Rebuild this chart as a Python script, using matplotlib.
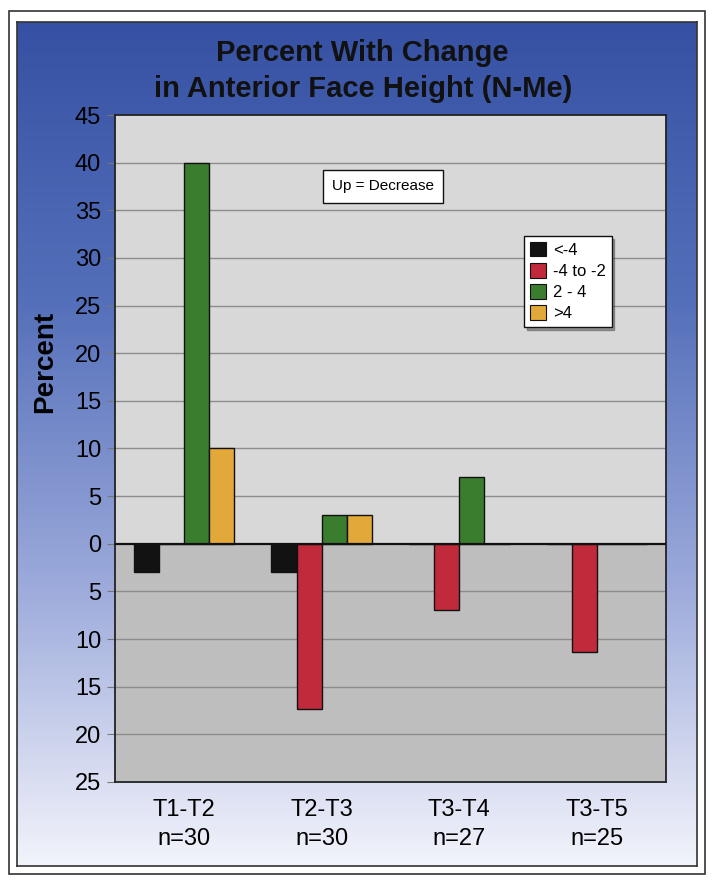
import numpy as np
import matplotlib
matplotlib.use("Agg")
import matplotlib.pyplot as plt
from matplotlib.patches import Rectangle, Patch
from matplotlib.colors import LinearSegmentedColormap

plt.rcParams['font.family'] = ['Liberation Sans', 'DejaVu Sans']

# data
periods = ['T1-T2\nn=30', 'T2-T3\nn=30', 'T3-T4\nn=27', 'T3-T5\nn=25']
groups = ['<-4', '-4 to -2', '2 - 4', '>4']
lt_m4 = [-3, -3, 0, 0]
m4_m2 = [0, -17.3, -7, -11.4]
p2_4 = [40, 3, 7, 0]
gt_4 = [10, 3, 0, 0]
series = [lt_m4, m4_m2, p2_4, gt_4]
colors = ['#121212', '#c12a3a', '#3b7d2e', '#e2a93a']
yticks = list(range(-25, 50, 5))
ytick_labels = [str(abs(v)) for v in yticks]

fig = plt.figure(figsize=(7.14, 8.82), dpi=100)
W, H = 714, 882

# outer frame
fig.patches.append(Rectangle((9 / W, 1 - 874 / H), 696 / W, 863 / H, transform=fig.transFigure,
                             facecolor='white', edgecolor='#333333', lw=1.2, zorder=0))

# blue gradient panel
bg = fig.add_axes([17 / W, 1 - 866 / H, 680 / W, 844 / H], zorder=1)
cmap = LinearSegmentedColormap.from_list('bluegrad', ['#3651a3', '#5570ba', '#9caadb', '#f3f4fb'])
grad = np.linspace(0, 1, 256).reshape(-1, 1)
bg.imshow(grad, aspect='auto', cmap=cmap, extent=[0, 1, 0, 1], origin='upper')
bg.set_xticks([])
bg.set_yticks([])
for s in bg.spines.values():
    s.set_color('#333333')
    s.set_linewidth(1.2)

ax = fig.add_axes([115 / W, 1 - 782 / H, 551 / W, 667 / H], zorder=2)
ax.set_xlim(-0.5, 3.5)
ax.set_ylim(-25, 45)
ax.axhspan(0, 45, color='#d8d8d8', zorder=0)
ax.axhspan(-25, 0, color='#bebebe', zorder=0)
for v in yticks[1:-1]:
    if v != 0:
        ax.axhline(v, color='#8c8c8c', lw=1.0, zorder=1)

x = np.arange(len(periods))
w = 0.182
for i, (vals, c) in enumerate(zip(series, colors)):
    ax.bar(x + (i - 1.5) * w, vals, width=w, color=c, edgecolor='#111111', lw=1.0, zorder=3)
ax.axhline(0, color='#111111', lw=1.6, zorder=4)

ax.set_yticks(yticks)
ax.set_yticklabels(ytick_labels, fontsize=17)
ax.set_xticks(x)
ax.set_xticklabels(periods, fontsize=17, linespacing=1.45)
ax.tick_params(axis='x', length=0, pad=12)
ax.tick_params(axis='y', length=6, color='#777777', pad=4)
for s in ax.spines.values():
    s.set_color('#222222')
    s.set_linewidth(1.3)
ax.set_ylabel('Percent', fontsize=20, fontweight='bold')
ax.yaxis.set_label_coords(-0.103, 0.63)

fig.text(0.508, 1 - 53 / H, 'Percent With Change', ha='center', va='center',
         fontsize=21, fontweight='bold', color='#111111')
fig.text(0.508, 1 - 89 / H, 'in Anterior Face Height (N-Me)', ha='center', va='center',
         fontsize=21, fontweight='bold', color='#111111')

ax.text(1.446, 37.5, 'Up = Decrease', ha='center', va='center', fontsize=11, zorder=5,
        bbox=dict(boxstyle='square,pad=0.6', facecolor='white', edgecolor='#111111', lw=1.0))

handles = [Patch(facecolor=c, edgecolor='#111111', lw=0.8) for c in colors]
leg = ax.legend(handles, groups, loc='upper left', bbox_to_anchor=(0.742, 0.819),
                prop={'size': 12},
                frameon=True, fancybox=False, shadow=True, handlelength=1.0, handleheight=1.0,
                handletextpad=0.4, borderpad=0.35, labelspacing=0.3, borderaxespad=0)
leg.get_frame().set_edgecolor('#111111')
leg.get_frame().set_linewidth(1.0)
leg.set_zorder(6)

fig.savefig('out.png', dpi=100)
